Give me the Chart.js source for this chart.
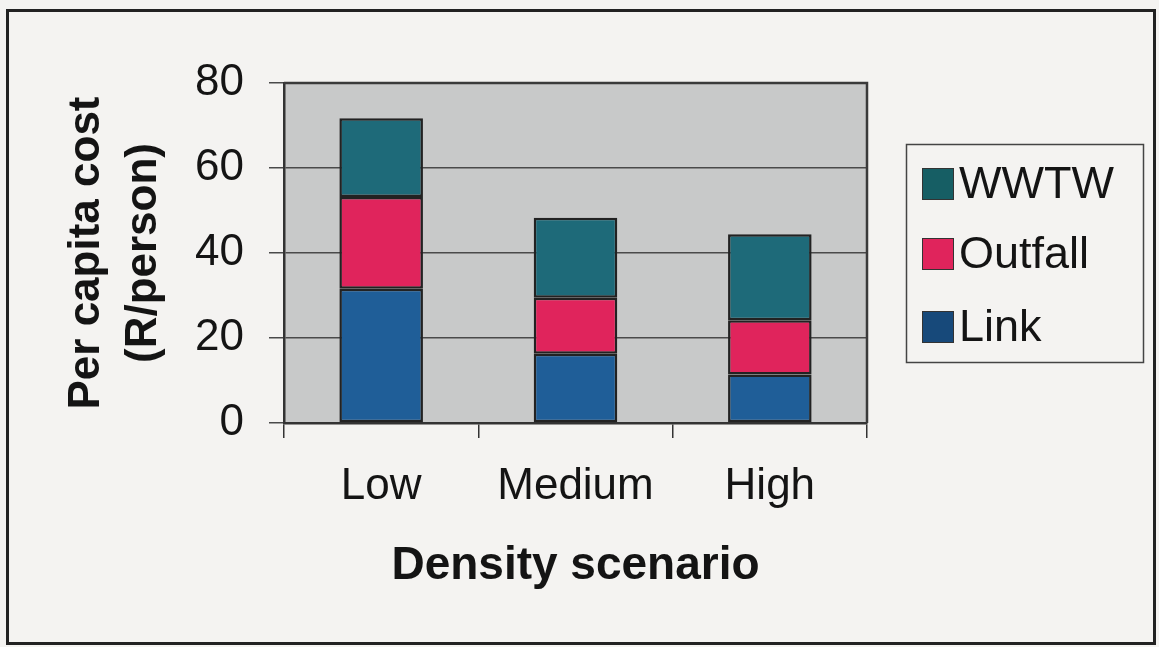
<!DOCTYPE html>
<html>
<head>
<meta charset="utf-8">
<title>Per capita cost by density scenario</title>
<script src="https://cdn.jsdelivr.net/npm/chart.js@4/dist/chart.umd.min.js"></script>
<style>
  html, body { margin: 0; padding: 0; background: #f4f3f1; }
  canvas { display: block; }
</style>
</head>
<body>
<canvas id="chart" width="1159" height="647"></canvas>
<script>
// Per capita cost components (R/person) for each density scenario
const categories = ['Low', 'Medium', 'High'];
const linkCost = [31.6, 16.3, 11.4];
const outfallCost = [21.6, 13.2, 12.8];
const wwtwCost = [18.5, 18.8, 20.2];
const yTickValues = [0, 20, 40, 60, 80];

const FONT = "'Liberation Sans', Arial, sans-serif";
const INK = '#141414';

// Page frame and grey plot background
const framePlugin = {
  id: 'frame',
  beforeDraw(chart) {
    const { ctx, chartArea: a } = chart;
    ctx.save();
    ctx.fillStyle = '#f4f3f1';
    ctx.fillRect(0, 0, chart.width, chart.height);
    ctx.strokeStyle = '#222';
    ctx.lineWidth = 3;
    ctx.strokeRect(7.5, 10.5, 1147, 633);
    ctx.fillStyle = '#c8c9c9';
    ctx.fillRect(a.left, a.top, a.right - a.left, a.bottom - a.top);
    ctx.restore();
  },
  afterDatasetsDraw(chart) {
    const { ctx, chartArea: a } = chart;
    ctx.save();
    ctx.strokeStyle = '#3a3a3a';
    ctx.lineWidth = 2.5;
    ctx.beginPath();
    ctx.moveTo(a.left, a.top);
    ctx.lineTo(a.right, a.top);
    ctx.lineTo(a.right, a.bottom);
    ctx.stroke();
    ctx.restore();
  }
};

// Boxed legend on the right, top entry is the top stack segment
const boxLegendPlugin = {
  id: 'boxLegend',
  afterDraw(chart) {
    const { ctx } = chart;
    const box = { x: 906, y: 144, w: 237, h: 218 };
    ctx.save();
    ctx.strokeStyle = '#444';
    ctx.lineWidth = 1.5;
    ctx.strokeRect(box.x + 0.5, box.y + 0.5, box.w, box.h);
    const items = chart.data.datasets.slice().reverse();
    const rowY = [184, 254, 327];
    ctx.font = '45px ' + FONT;
    ctx.textBaseline = 'middle';
    ctx.textAlign = 'left';
    items.forEach((ds, i) => {
      const cy = rowY[i];
      ctx.fillStyle = ds.legendColor || ds.backgroundColor;
      ctx.fillRect(922, cy - 16, 32, 32);
      ctx.strokeStyle = '#333';
      ctx.lineWidth = 1;
      ctx.strokeRect(922.5, cy - 15.5, 31, 31);
      ctx.fillStyle = INK;
      ctx.fillText(ds.label, 959, cy + 2);
    });
    ctx.restore();
  }
};

const barStyle = {
  borderColor: '#222',
  borderWidth: 2.5,
  borderSkipped: false,
  categoryPercentage: 0.43,
  barPercentage: 1.0
};

new Chart(document.getElementById('chart'), {
  type: 'bar',
  data: {
    labels: categories,
    datasets: [
      Object.assign({ label: 'Link', data: linkCost, backgroundColor: '#1f5e98', legendColor: '#17497a' }, barStyle),
      Object.assign({ label: 'Outfall', data: outfallCost, backgroundColor: '#e0245c' }, barStyle),
      Object.assign({ label: 'WWTW', data: wwtwCost, backgroundColor: '#1e6a79', legendColor: '#165e64' }, barStyle)
    ]
  },
  options: {
    responsive: false,
    animation: false,
    devicePixelRatio: 1,
    layout: { padding: { left: 0, top: 83, right: 292, bottom: 0 } },
    plugins: {
      legend: { display: false },
      tooltip: { enabled: false }
    },
    scales: {
      x: {
        stacked: true,
        afterFit(scale) { scale.height = 224; },
        grid: {
          offset: true,
          drawOnChartArea: false,
          drawTicks: true,
          tickLength: 15,
          color: '#333',
          lineWidth: 1.5
        },
        border: { display: true, color: '#333', width: 2.5 },
        ticks: {
          color: INK,
          padding: 22,
          font: { family: FONT, size: 44 }
        },
        title: {
          display: true,
          text: 'Density scenario',
          color: INK,
          font: { family: FONT, size: 46, weight: 'bold', lineHeight: 1.2 },
          padding: { top: 0, bottom: 53 }
        }
      },
      y: {
        stacked: true,
        min: 0,
        max: 80,
        afterFit(scale) { scale.width = 284; },
        afterBuildTicks(scale) { scale.ticks = yTickValues.map(v => ({ value: v })); },
        grid: {
          color: '#4a4a4a',
          lineWidth: 1.5,
          tickLength: 15,
          drawTicks: true
        },
        border: { display: true, color: '#333', width: 2.5 },
        ticks: {
          color: INK,
          padding: 25,
          font: { family: FONT, size: 44 }
        },
        title: {
          display: true,
          text: ['Per capita cost', '(R/person)'],
          color: INK,
          font: { family: FONT, size: 44, weight: 'bold', lineHeight: 1.3 },
          padding: { top: 58, bottom: 0 }
        }
      }
    }
  },
  plugins: [framePlugin, boxLegendPlugin]
});
</script>
</body>
</html>
